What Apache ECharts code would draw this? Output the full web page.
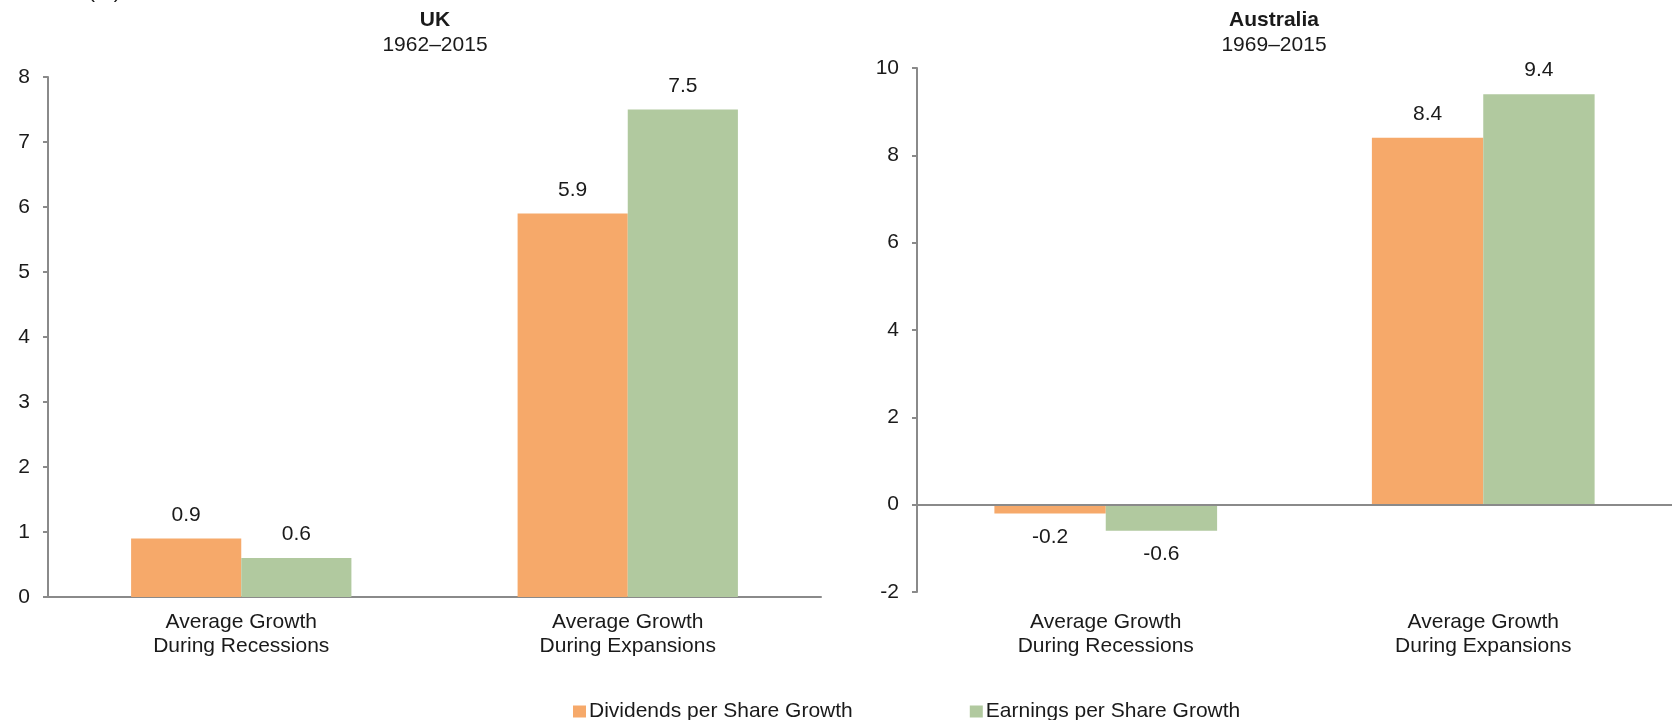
<!DOCTYPE html>
<html>
<head>
<meta charset="utf-8">
<title>Dividend and Earnings Growth: UK and Australia</title>
<script src="https://cdn.jsdelivr.net/npm/echarts@6/dist/echarts.min.js"></script>
<style>
  html, body { margin: 0; padding: 0; background: #ffffff; }
  #chart { width: 1672px; height: 720px; }
</style>
</head>
<body>
<div id="chart"></div>
<script>
// Category labels shared by both panels
const categories = ['Average Growth\nDuring Recessions', 'Average Growth\nDuring Expansions'];
const seriesNames = ['Dividends per Share Growth', 'Earnings per Share Growth'];

// UK, 1962–2015 (%)
const ukDividends = [0.9, 5.9];
const ukEarnings = [0.6, 7.5];

// Australia, 1969–2015 (%)
const auDividends = [-0.2, 8.4];
const auEarnings = [-0.6, 9.4];

const ORANGE = '#F6A96A';
const GREEN = '#B1C99F';
const AXIS = '#8a8a8a';
const TEXT = '#1a1a1a';
const FONT = '"Liberation Sans", Arial, sans-serif';
const FS = 21;

function barData(values) {
  return values.map(v => ({
    value: v,
    label: { position: v < 0 ? 'bottom' : 'top' }
  }));
}

function barSeries(name, values, color, idx, gap) {
  return {
    name: name,
    type: 'bar',
    xAxisIndex: idx,
    yAxisIndex: idx,
    data: barData(values),
    barGap: '0%',
    barCategoryGap: gap,
    itemStyle: { color: color },
    label: {
      show: true,
      distance: 13,
      color: TEXT,
      fontFamily: FONT,
      fontSize: FS,
      formatter: p => p.value.toFixed(1)
    }
  };
}

function categoryAxis(idx, margin, onZero) {
  return {
    type: 'category',
    gridIndex: idx,
    data: categories,
    axisLine: { show: onZero, onZero: onZero, lineStyle: { color: AXIS, width: 2 } },
    axisTick: { show: false },
    axisLabel: {
      color: TEXT, fontFamily: FONT, fontSize: FS, lineHeight: 24, margin: margin,
      interval: 0
    }
  };
}

function valueAxis(idx, min, max, interval) {
  return {
    type: 'value',
    gridIndex: idx,
    min: min, max: max, interval: interval,
    splitLine: { show: false },
    axisLine: { show: true, lineStyle: { color: AXIS, width: 2 } },
    axisTick: { show: true, length: 5, lineStyle: { color: AXIS, width: 2 } },
    axisLabel: { color: TEXT, fontFamily: FONT, fontSize: FS, margin: 18 }
  };
}

const chart = echarts.init(document.getElementById('chart'));

const auDiv = barSeries(seriesNames[0], auDividends, ORANGE, 1, '41%');
// zero baseline across the Australia panel
auDiv.markLine = {
  silent: true,
  symbol: 'none',
  label: { show: false },
  lineStyle: { color: AXIS, width: 2, type: 'solid' },
  data: [{ yAxis: 0 }]
};

const titleText = { color: TEXT, fontFamily: FONT, fontSize: FS, fontWeight: 'bold' };
const titleSub = { color: TEXT, fontFamily: FONT, fontSize: FS };

chart.setOption({
  animation: false,
  backgroundColor: '#ffffff',
  textStyle: { fontFamily: FONT },
  title: [
    {
      text: 'UK', subtext: '1962–2015',
      left: 430, top: 5, textAlign: 'center', itemGap: 4,
      textStyle: titleText, subtextStyle: titleSub
    },
    {
      text: 'Australia', subtext: '1969–2015',
      left: 1269, top: 5, textAlign: 'center', itemGap: 4,
      textStyle: titleText, subtextStyle: titleSub
    }
  ],
  graphic: [
    {
      type: 'text', left: 88, top: -18,
      style: { text: '(%)', fill: TEXT, font: FS + 'px ' + FONT }
    }
  ],
  legend: {
    left: 568, top: 696,
    itemWidth: 13, itemHeight: 12, itemGap: 117,
    icon: 'rect',
    data: seriesNames,
    textStyle: { color: TEXT, fontFamily: FONT, fontSize: FS, padding: [0, 0, 0, -2] }
  },
  grid: [
    { left: 48, right: 851, top: 77, bottom: 123, containLabel: false },
    { left: 917, right: 0, top: 68, bottom: 128, containLabel: false }
  ],
  xAxis: [
    categoryAxis(0, 13, true),
    categoryAxis(1, 18, false)
  ],
  yAxis: [
    valueAxis(0, 0, 8, 1),
    valueAxis(1, -2, 10, 2)
  ],
  series: [
    barSeries(seriesNames[0], ukDividends, ORANGE, 0, '43%'),
    barSeries(seriesNames[1], ukEarnings, GREEN, 0, '43%'),
    auDiv,
    barSeries(seriesNames[1], auEarnings, GREEN, 1, '41%')
  ]
});
</script>
</body>
</html>
